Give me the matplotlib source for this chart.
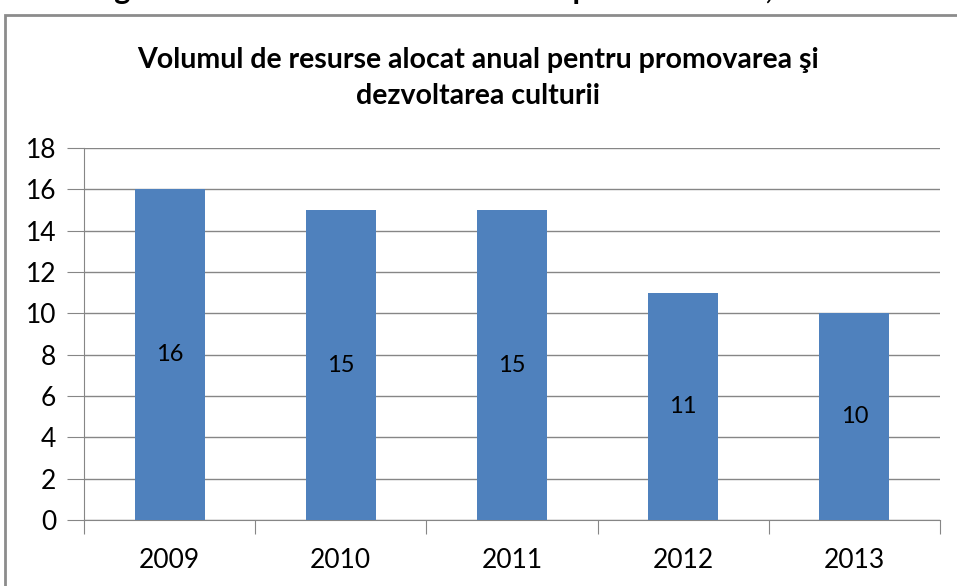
import matplotlib.pyplot as plt
from matplotlib.patches import Rectangle

years = ['2009', '2010', '2011', '2012', '2013']
values = [16, 15, 15, 11, 10]
yticks = [0, 2, 4, 6, 8, 10, 12, 14, 16, 18]

plt.rcParams['font.family'] = ['Lato', 'DejaVu Sans']

fig = plt.figure(figsize=(9.57, 5.86), dpi=100)

# cut-off heading above the chart frame
fig.text(0.5, 1 + 1 / 586, 'Figura 1. Volumul de resurse alocat pentru cultură, mil. lei',
         ha='center', va='baseline', fontsize=22, fontweight='bold')

# chart frame
fig.patches.append(Rectangle((5 / 957, -0.05), 1.0, (586 - 15) / 586 + 0.05,
                             transform=fig.transFigure, fill=False,
                             edgecolor='#8c8c8c', linewidth=2))

ax = fig.add_axes([84 / 957, 66 / 586, 856 / 957, 372 / 586])
x = range(len(years))
bars = ax.bar(x, values, width=0.41, color='#4F81BD', zorder=3)
ax.bar_label(bars, labels=[str(v) for v in values], label_type='center',
             fontsize=17, color='black')

ax.set_xlim(-0.5, len(years) - 0.5)
ax.set_ylim(0, 18)
ax.set_yticks(yticks)
ax.tick_params(axis='y', labelsize=19, length=12, color='#868686', pad=8)
ax.yaxis.grid(True, color='#868686', linewidth=1, zorder=0)

ax.set_xticks([i - 0.5 for i in range(len(years) + 1)])
ax.set_xticklabels([])
ax.set_xticks(list(x), minor=True)
ax.set_xticklabels(years, minor=True)
ax.tick_params(axis='x', which='major', length=10, color='#868686')
ax.tick_params(axis='x', which='minor', length=0, labelsize=19, pad=20)

for side in ['top', 'right']:
    ax.spines[side].set_visible(False)
ax.spines['left'].set_color('#868686')
ax.spines['bottom'].set_color('#868686')

fig.text(0.5, 1 - 78 / 586, 'Volumul de resurse alocat anual pentru promovarea şi\ndezvoltarea culturii',
         ha='center', va='center', fontsize=20.5, fontweight='bold', linespacing=1.45)

fig.savefig('out.png', dpi=100)
